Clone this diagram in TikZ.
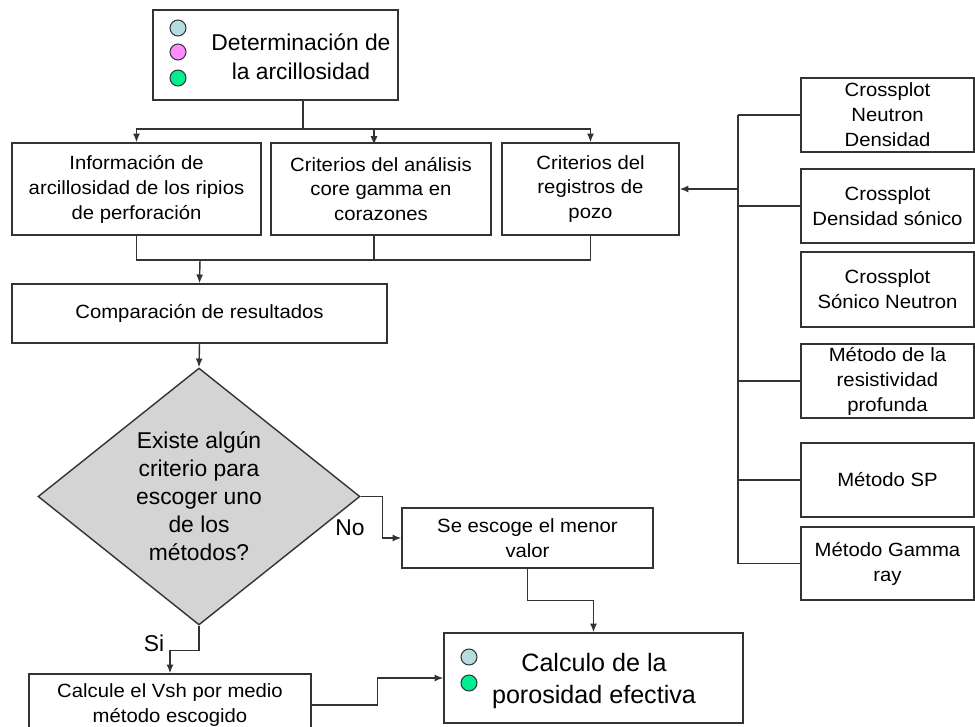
\documentclass[tikz,border=0pt]{standalone}
\usepackage{fontspec}
\usepackage{xcolor}
\setmainfont{Liberation Sans}
\newfontfamily\boxfont{Liberation Sans}[FakeStretch=1.06]
\usetikzlibrary{shapes.geometric,calc,arrows.meta}
\definecolor{linegray}{gray}{0.2}
\definecolor{diamondgray}{gray}{0.83}
\definecolor{dotblue}{HTML}{B6DCDF}
\definecolor{dotpink}{HTML}{FF8CFF}
\definecolor{dotgreen}{HTML}{00EE90}

\begin{document}
\begin{tikzpicture}[
  x=0.02cm, y=-0.02cm,
  box/.style={draw=linegray, line width=0.8pt, inner sep=0pt, align=center,
    font=\boxfont\fontsize{10.9}{14.2}\selectfont},
  bigtxt/.style={align=center, inner sep=0pt, font=\fontsize{13}{16.4}\selectfont},
  decision/.style={diamond, draw=linegray, line width=0.8pt, fill=diamondgray,
    inner sep=0pt, minimum width=6.44cm, minimum height=5.14cm},
  dot/.style={circle, draw=linegray, line width=0.6pt, inner sep=0pt, minimum size=0.32cm},
  arr/.style={->, line width=0.8pt, draw=linegray, >={Latex[length=5pt,width=4pt]}},
  wire/.style={line width=0.8pt, draw=linegray}
]
  \useasboundingbox (0,0) rectangle (975,727);
  \clip (0,0) rectangle (975,727);

  % top
  \node[box, minimum width=4.9cm, minimum height=1.8cm] (det) at (275.5,55) {};
  \node[bigtxt] (dettxt) at (301,57) {Determinación de\\la arcillosidad};
  \node[dot, fill=dotblue]  (d1) at (178,28) {};
  \node[dot, fill=dotpink]  (d2) at (178,52) {};
  \node[dot, fill=dotgreen] (d3) at (178,78) {};

  % three criteria
  \node[box, minimum width=4.98cm, minimum height=1.84cm] (info) at (136.5,189)
    {Información de\\arcillosidad de los ripios\\de perforación};
  \node[box, minimum width=4.4cm, minimum height=1.84cm] (crit) at (381,189)
    {Criterios del análisis\\core gamma en\\corazones};
  \node[box, minimum width=3.54cm, minimum height=1.84cm] (reg) at (590.5,189)
    {Criterios del\\registros de\\pozo};

  \node[box, minimum width=7.5cm, minimum height=1.18cm] (comp) at (199.5,313.5)
    {Comparación de resultados};

  % right column
  \node[box, minimum width=3.46cm, minimum height=1.48cm] (r1) at (887.5,115) {Crossplot\\Neutron\\Densidad};
  \node[box, minimum width=3.46cm, minimum height=1.48cm] (r2) at (887.5,206) {Crossplot\\Densidad sónico};
  \node[box, minimum width=3.46cm, minimum height=1.5cm]  (r3) at (887.5,289.5) {Crossplot\\Sónico Neutron};
  \node[box, minimum width=3.46cm, minimum height=1.48cm] (r4) at (887.5,381) {Método de la\\resistividad\\profunda};
  \node[box, minimum width=3.46cm, minimum height=1.48cm] (r5) at (887.5,480) {Método SP};
  \node[box, minimum width=3.46cm, minimum height=1.46cm] (r6) at (887.5,563.5) {Método Gamma\\ray};

  % decision
  \node[decision] (q) at (199,496.5) {};
  \node[align=center, inner sep=0pt, font=\fontsize{13}{15.9}\selectfont] (qtxt) at (q.center)
    {Existe algún\\criterio para\\escoger uno\\de los\\métodos?};
  \node[font=\fontsize{13}{15}\selectfont] (no) at (350,528) {No};
  \node[font=\fontsize{13}{15}\selectfont] (si) at (154,643) {Si};

  \node[box, minimum width=5.02cm, minimum height=1.2cm] (seesc) at (527.5,538)
    {Se escoge el menor\\valor};
  \node[box, minimum width=5.64cm, minimum height=1.24cm] (calc) at (170,705)
    {Calcule el Vsh por medio\\método escogido};

  \node[box, minimum width=5.98cm, minimum height=1.8cm] (poro) at (593.5,678) {};
  \node[align=center, inner sep=0pt, font=\fontsize{14.3}{18}\selectfont] (porotxt) at (594,681)
    {Calculo de la\\porosidad efectiva};
  \node[dot, fill=dotblue]  (p1) at (469,657) {};
  \node[dot, fill=dotgreen] (p2) at (469,683) {};

  % connectors top part
  \coordinate (split) at (303,129);
  \coordinate (cin) at (374,145);
  \coordinate (cout) at (374,235);
  \coordinate (merge) at (200,260);
  \draw[wire] (det.south -| split) -- (split);
  \draw[arr] (split) -| (info.north);
  \draw[arr] (split) -| (reg.north);
  \draw[arr] (cin |- split) -- (cin);
  \draw[wire] (info.south) |- (reg.south |- merge) -- (reg.south);
  \draw[wire] (cout) -- (cout |- merge);
  \draw[arr] (merge) -- (comp.north);
  \draw[arr] (comp.south) -- (q.north);

  % right trunk
  \coordinate (trunk) at (738,189);
  \draw[wire] (trunk |- r1.west) -- (trunk |- r6.west);
  \foreach \n in {r1,r2,r4,r5,r6}
    \draw[wire] (\n.west) -- (\n.west -| trunk);
  \draw[arr] (trunk) -- (reg.east);

  % lower part
  \draw[arr] (q.east) -- ++(22,0) |- (seesc.west);
  \draw[arr] (q.south) -- ++(0,25) -| (calc.north);
  \draw[arr] (seesc.south) -- ++(0,32) -| (poro.north);
  \draw[arr] (calc.east) -- ++(66,0) |- (poro.west);
\end{tikzpicture}
\end{document}
